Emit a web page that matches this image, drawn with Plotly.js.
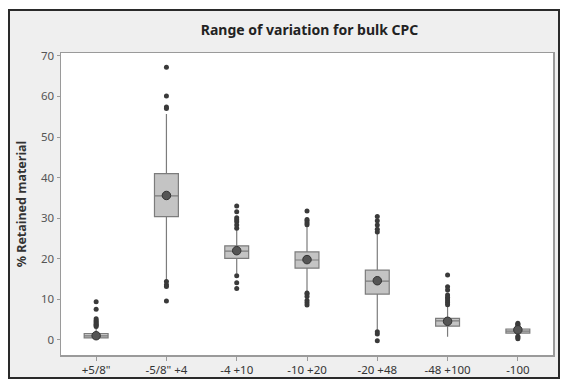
<!DOCTYPE html>
<html>
<head>
<meta charset="utf-8">
<script src="https://cdn.plot.ly/plotly-3.0.1.min.js"></script>
<style>
  html, body { margin: 0; padding: 0; background: #ffffff; width: 561px; height: 380px; overflow: hidden; }
  #frame { position: absolute; left: 8px; top: 9px; width: 548px; height: 366px; border: 2px solid #2a2a2a; background: #efefef; }
  #chart { position: absolute; left: 0; top: 0; width: 561px; height: 380px; }
</style>
</head>
<body>
<div id="frame"></div>
<div id="chart"></div>
<script>
const categories = ['+5/8"', '-5/8" +4', '-4 +10', '-10 +20', '-20 +48', '-48 +100', '-100'];
const q1Values     = [0.5, 30.4, 20.1, 17.7, 11.3, 3.4, 1.7];
const medianValues = [1.0, 35.5, 21.9, 19.7, 14.5, 4.7, 2.2];
const q3Values     = [1.6, 41.0, 23.2, 21.7, 17.2, 5.3, 2.7];
const lowerWhisker = [0.1, 14.8, 16.4, 11.9, 2.5, 0.8, 1.2];
const upperWhisker = [3.0, 55.7, 27.1, 28.1, 26.3, 8.2, 3.3];
const meanValues   = [1.05, 35.6, 22.0, 19.8, 14.6, 4.6, 2.5];
const outlierValues = [
  [9.4, 7.6, 5.2, 4.8, 4.5, 4.2, 3.9, 3.6, 3.3],
  [67.2, 60.1, 57.4, 57.0, 14.4, 13.6, 13.2, 9.6],
  [33.0, 31.6, 30.1, 29.6, 29.1, 28.3, 27.5, 15.8, 14.1, 12.7],
  [31.8, 29.7, 29.3, 28.8, 28.4, 11.6, 11.3, 10.7, 9.7, 9.2, 8.6],
  [30.4, 29.4, 28.3, 27.3, 26.6, 2.0, 1.5, -0.2],
  [16.0, 13.1, 12.3, 11.1, 10.5, 10.1, 9.6, 9.2, 8.7],
  [4.1, 3.9, 3.6, 0.9, 0.6, 0.3]
];
const yTickValues = [0, 10, 20, 30, 40, 50, 60, 70];

const outX = [], outY = [];
outlierValues.forEach((vals, i) => vals.forEach(v => { outX.push(categories[i]); outY.push(v); }));

const boxTrace = {
  type: 'box',
  x: categories,
  q1: q1Values,
  median: medianValues,
  q3: q3Values,
  lowerfence: lowerWhisker,
  upperfence: upperWhisker,
  boxpoints: false,
  width: 0.34,
  whiskerwidth: 0,
  fillcolor: '#c4c4c4',
  line: { color: '#7c7c7c', width: 1.2 },
  hoverinfo: 'skip',
  showlegend: false
};
const meanTrace = {
  type: 'scatter', mode: 'markers',
  x: categories, y: meanValues,
  marker: { symbol: 'circle', size: 8.5, color: '#555555', line: { color: '#333333', width: 1 } },
  showlegend: false, hoverinfo: 'skip'
};
const outlierTrace = {
  type: 'scatter', mode: 'markers',
  x: outX, y: outY,
  marker: { symbol: 'circle', size: 5, color: '#3a3a3a' },
  showlegend: false, hoverinfo: 'skip'
};

const fontFam = '"Noto Sans", "Open Sans", sans-serif';
const layout = {
  width: 561, height: 380,
  paper_bgcolor: 'rgba(0,0,0,0)',
  plot_bgcolor: '#ffffff',
  margin: { l: 61, r: 8, t: 53, b: 25, pad: 0 },
  title: {
    text: '<b>Range of variation for bulk CPC</b>',
    font: { family: fontFam, size: 14, color: '#222222' },
    x: 0.505, xanchor: 'center', xref: 'paper',
    y: 1 - 30 / 380, yanchor: 'middle', yref: 'container'
  },
  xaxis: {
    type: 'category',
    range: [-0.5, 6.5],
    showgrid: false, zeroline: false,
    showline: true, linecolor: '#9a9a9a', linewidth: 1.5, mirror: true,
    ticks: 'outside', ticklen: 4, tickcolor: '#9a9a9a',
    tickfont: { family: fontFam, size: 11.5, color: '#333333' }
  },
  yaxis: {
    range: [-3.7, 70.7],
    tickvals: yTickValues,
    showgrid: false, zeroline: false,
    showline: true, linecolor: '#9a9a9a', linewidth: 1.5, mirror: true,
    ticks: 'outside', ticklen: 3, tickcolor: '#9a9a9a',
    tickfont: { family: fontFam, size: 11.5, color: '#555555' },
    title: { text: '<b>% Retained material</b>', font: { family: fontFam, size: 12.5, color: '#333333' }, standoff: 11 }
  }
};

Plotly.newPlot('chart', [boxTrace, outlierTrace, meanTrace], layout, { displayModeBar: false, staticPlot: true });
</script>
</body>
</html>
